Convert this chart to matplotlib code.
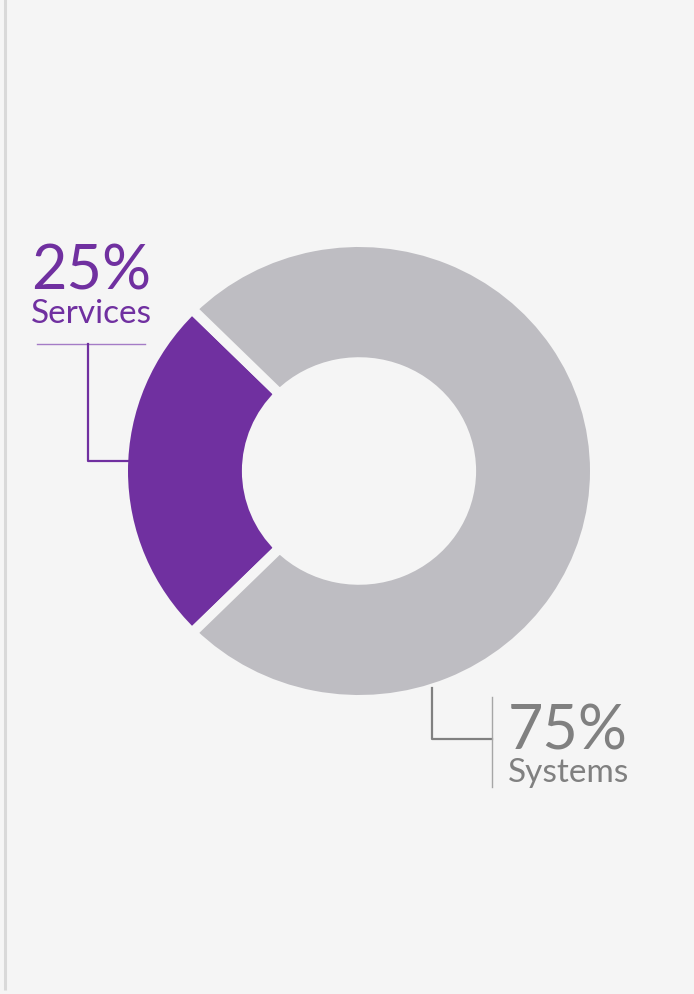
import matplotlib
matplotlib.use("Agg")
import matplotlib.pyplot as plt

labels = ["Services", "Systems"]
values = [25, 75]
pct_labels = ["25%", "75%"]
colors = ["#7030A0", "#BEBDC2"]
bg = "#F5F5F5"

W, H = 694, 995
fig = plt.figure(figsize=(W / 100, H / 100), dpi=100, facecolor=bg)

# donut axes (slightly stretched horizontally as in reference)
cx, cy = 359, 472
Rx, Ry = 236, 229
dax = fig.add_axes([(cx - Rx) / W, (H - (cy + Ry)) / H, 2 * Rx / W, 2 * Ry / H])
dax.pie(values, colors=colors, startangle=135, counterclock=True, radius=1,
        wedgeprops=dict(width=0.525, edgecolor=bg, linewidth=7.2))
dax.set_xlim(-1, 1)
dax.set_ylim(-1, 1)
dax.set_aspect("auto")
dax.axis("off")

# overlay axes in pixel coordinates (on top)
ov = fig.add_axes([0, 0, 1, 1])
ov.set_xlim(0, W)
ov.set_ylim(H, 0)
ov.axis("off")
ov.patch.set_alpha(0)

# left border
ov.plot([5.5, 5.5], [0, 991], color="#D9D9D9", lw=2.2, solid_capstyle="butt")

font = "Lato"
purple = colors[0]
grey_txt = "#808080"

# Services label
ov.text(31, 290, pct_labels[0], color=purple, fontsize=44, family=font, ha="left", va="baseline")
ov.text(31, 323, labels[0], color=purple, fontsize=24, family=font, ha="left", va="baseline")
ov.plot([37, 145], [345, 345], color="#A47BC6", lw=1.0)
ov.plot([88.5, 88.5, 129], [345, 462, 462], color=purple, lw=1.6)

# Systems label
ov.plot([432, 432, 492], [689, 740, 740], color=grey_txt, lw=1.6)
ov.plot([492, 492], [698, 788], color="#A6A6A6", lw=1.0)
ov.text(508, 750, pct_labels[1], color=grey_txt, fontsize=44, family=font, ha="left", va="baseline")
ov.text(508, 782, labels[1], color=grey_txt, fontsize=24, family=font, ha="left", va="baseline")

fig.savefig("out.png", dpi=100, facecolor=bg)
